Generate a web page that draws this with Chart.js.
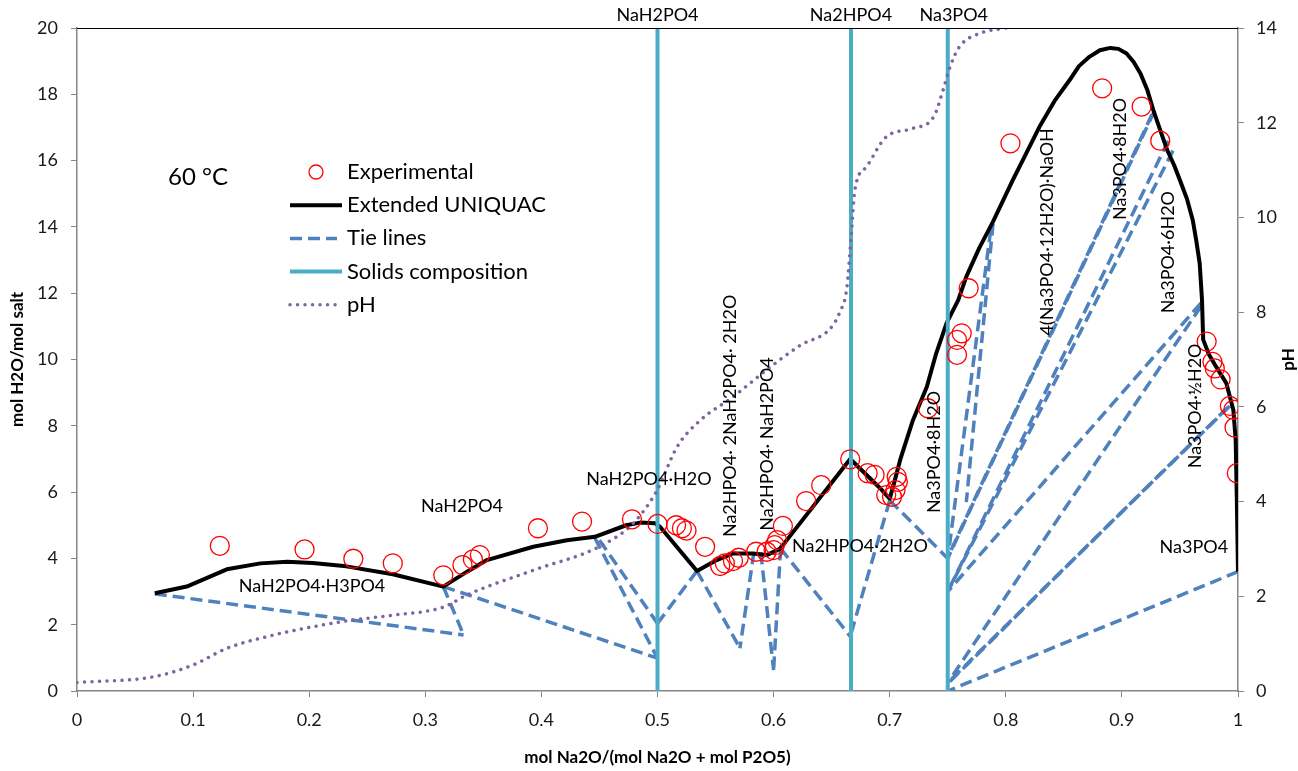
<!DOCTYPE html>
<html>
<head>
<meta charset="utf-8">
<title>Na2O-P2O5-H2O at 60 °C</title>
<script src="https://cdn.jsdelivr.net/npm/chart.js@4.4.1/dist/chart.umd.min.js"></script>
<style>
    body { margin: 0; background: #ffffff; }
    #wrap { width: 1298px; height: 771px; }
</style>
</head>
<body>
<div id="wrap"><canvas id="myChart" width="1298" height="771"></canvas></div>
<script>
// experimental solubility points
const expX = [0.123, 0.196, 0.238, 0.272, 0.3155, 0.332, 0.341, 0.347, 0.397, 0.435,
    0.478, 0.500, 0.516, 0.521, 0.525, 0.541, 0.554, 0.558, 0.565, 0.570,
    0.585, 0.594, 0.600, 0.601, 0.603, 0.608, 0.628, 0.641, 0.666, 0.681,
    0.687, 0.697, 0.702, 0.705, 0.707, 0.706, 0.733, 0.758, 0.758, 0.762,
    0.768, 0.804, 0.883, 0.917, 0.933, 0.973, 0.978, 0.980, 0.985, 0.993,
    0.996, 0.997, 0.999];
const expY = [4.38, 4.27, 3.99, 3.85, 3.49, 3.80, 3.97, 4.10, 4.91, 5.11,
    5.18, 5.04, 5.00, 4.91, 4.84, 4.35, 3.77, 3.85, 3.92, 4.02,
    4.20, 4.20, 4.25, 4.40, 4.55, 4.98, 5.73, 6.21, 6.99, 6.57,
    6.52, 5.91, 5.86, 6.06, 6.31, 6.46, 8.53, 10.14, 10.59, 10.79,
    12.15, 16.52, 18.18, 17.63, 16.60, 10.54, 9.93, 9.73, 9.40, 8.60,
    8.48, 7.95, 6.57];

// Extended UNIQUAC solubility curve
const uniquacX = [0.067, 0.0945, 0.129, 0.158, 0.181, 0.203, 0.232, 0.272, 0.3155, 0.336,
    0.353, 0.393, 0.422, 0.446, 0.473, 0.485, 0.498, 0.502, 0.534, 0.551,
    0.565, 0.582, 0.594, 0.605, 0.608, 0.666, 0.692, 0.700, 0.704, 0.709,
    0.720, 0.732, 0.740, 0.749, 0.759, 0.766, 0.777, 0.789, 0.806, 0.818,
    0.829, 0.842, 0.855, 0.863, 0.872, 0.881, 0.890, 0.897, 0.904, 0.910,
    0.916, 0.922, 0.927, 0.933, 0.939, 0.945, 0.950, 0.956, 0.961, 0.964,
    0.967, 0.969, 0.970, 0.975, 0.980, 0.990, 0.996, 0.998, 0.999, 1.000];
const uniquacY = [2.95, 3.15, 3.67, 3.85, 3.90, 3.86, 3.76, 3.52, 3.15, 3.60,
    3.95, 4.35, 4.55, 4.65, 5.00, 5.08, 5.06, 4.96, 3.62, 3.95,
    4.15, 4.15, 4.10, 4.28, 4.40, 7.00, 6.11, 5.80, 6.30, 6.97,
    8.17, 9.18, 10.18, 11.10, 11.79, 12.50, 13.35, 14.16, 15.41, 16.25,
    17.02, 17.80, 18.43, 18.85, 19.13, 19.33, 19.40, 19.37, 19.23, 18.98,
    18.63, 18.12, 17.53, 16.92, 16.32, 15.86, 15.41, 14.85, 14.21, 13.60,
    12.90, 11.80, 10.60, 10.15, 9.85, 9.28, 8.48, 7.57, 5.76, 3.60];

// pH (right axis)
const phX = [0, 0.066, 0.100, 0.129, 0.169, 0.204, 0.238, 0.272, 0.3155, 0.336,
    0.393, 0.450, 0.479, 0.499, 0.517, 0.537, 0.565, 0.594, 0.623, 0.649,
    0.657, 0.663, 0.667, 0.670, 0.680, 0.697, 0.720, 0.738, 0.746, 0.752,
    0.760, 0.778, 0.800];
const phY = [0.18, 0.30, 0.55, 0.90, 1.18, 1.36, 1.50, 1.60, 1.77, 2.03,
    2.55, 3.05, 3.54, 4.21, 5.16, 5.72, 6.21, 6.78, 7.30, 7.66,
    8.00, 8.50, 9.66, 10.58, 11.07, 11.70, 11.88, 12.13, 12.69, 13.18,
    13.60, 13.89, 14.00];

// solids composition (vertical lines)
const solidsX = [0.5, 2 / 3, 0.75];
const solidsNames = ['NaH2PO4', 'Na2HPO4', 'Na3PO4'];

// tie lines: [x solution, y solution, x solid, y solid]
const tieLines = [
    [0.067, 2.93, 0.333, 1.69],
    [0.3155, 3.15, 0.333, 1.69],
    [0.3155, 3.15, 0.5, 0.99],
    [0.446, 4.62, 0.5, 0.99],
    [0.450, 4.55, 0.5, 2.04],
    [0.534, 3.62, 0.5, 2.04],
    [0.534, 3.62, 0.571, 1.29],
    [0.583, 4.18, 0.571, 1.29],
    [0.589, 4.18, 0.6, 0.63],
    [0.606, 4.30, 0.6, 0.63],
    [0.606, 4.30, 0.666, 1.65],
    [0.700, 5.75, 0.666, 1.65],
    [0.700, 5.75, 0.75, 4.00],
    [0.789, 14.10, 0.766, 5.70],
    [0.787, 13.90, 0.75, 4.00],
    [0.928, 17.50, 0.75, 4.00],
    [0.926, 17.40, 0.75, 4.03],
    [0.940, 16.60, 0.75, 3.00],
    [0.944, 16.30, 0.75, 3.00],
    [0.968, 11.70, 0.75, 3.00],
    [0.968, 11.60, 0.75, 0.25],
    [0.993, 8.60, 0.75, 0.25],
    [0.991, 8.55, 0.75, 0.22],
    [1.000, 3.60, 0.75, 0.00]
];

// phase field labels (data coordinates), rot = rotated text
const phaseLabels = [
    { text: 'NaH2PO4·H3PO4', x: 0.2024, y: 3.17 },
    { text: 'NaH2PO4', x: 0.3316, y: 5.58 },
    { text: 'NaH2PO4·H2O', x: 0.4927, y: 6.40 },
    { text: 'Na2HPO4·2H2O', x: 0.6744, y: 4.37 },
    { text: 'Na3PO4', x: 0.962, y: 4.34 },
    { text: 'Na2HPO4· 2NaH2PO4· 2H2O', x: 0.5624, y: 8.30, rot: true },
    { text: 'Na2HPO4· NaH2PO4', x: 0.5943, y: 7.45, rot: true },
    { text: 'Na3PO4·8H2O', x: 0.7382, y: 7.21, rot: true },
    { text: '4(Na3PO4·12H2O)·NaOH', x: 0.8355, y: 13.85, rot: true },
    { text: 'Na3PO4·8H2O', x: 0.8984, y: 16.05, rot: true },
    { text: 'Na3PO4·6H2O', x: 0.9397, y: 13.24, rot: true },
    { text: 'Na3PO4·½H2O', x: 0.963, y: 8.60, rot: true }
];

const FONT = 'Lato, "Open Sans", sans-serif';
const AXIS_GREY = '#868686';

function toPoints(xs, ys) {
    return xs.map((x, i) => ({ x: x, y: ys[i] }));
}

const datasets = [];

datasets.push({
    label: 'Experimental',
    data: toPoints(expX, expY),
    showLine: false,
    pointRadius: 9.5,
    pointBorderWidth: 1.3,
    pointBorderColor: '#FF0000',
    pointBackgroundColor: 'rgba(0,0,0,0)',
    order: 0
});

datasets.push({
    label: 'Extended UNIQUAC',
    data: toPoints(uniquacX, uniquacY),
    showLine: true,
    pointRadius: 0,
    borderColor: '#000000',
    borderWidth: 4,
    borderJoinStyle: 'round',
    tension: 0,
    order: 3
});

tieLines.forEach(function(t) {
    datasets.push({
        label: 'Tie lines',
        data: [{ x: t[0], y: t[1] }, { x: t[2], y: t[3] }],
        showLine: true,
        pointRadius: 0,
        borderColor: '#4F81BD',
        borderWidth: 3.5,
        borderDash: [12, 6],
        order: 4
    });
});

solidsX.forEach(function(x) {
    datasets.push({
        label: 'Solids composition',
        data: [{ x: x, y: 0 }, { x: x, y: 20 }],
        showLine: true,
        pointRadius: 0,
        borderColor: '#4BACC6',
        borderWidth: 4,
        order: 2
    });
});

datasets.push({
    label: 'pH',
    data: toPoints(phX, phY),
    yAxisID: 'y2',
    showLine: true,
    pointRadius: 0,
    borderColor: '#8064A2',
    borderWidth: 3.5,
    borderCapStyle: 'round',
    borderDash: [0.01, 7.5],
    cubicInterpolationMode: 'monotone',
    order: 1
});

// labels, legend and plot frame drawn on top of the chart
const textPlugin = {
    id: 'textPlugin',
    afterDraw(chart) {
        const ctx = chart.ctx;
        const a = chart.chartArea;
        const sx = chart.scales.x, sy = chart.scales.y;
        ctx.save();

        // top frame line
        ctx.strokeStyle = '#000000';
        ctx.lineWidth = 1.2;
        ctx.beginPath();
        ctx.moveTo(a.left, a.top + 0.5);
        ctx.lineTo(a.right, a.top + 0.5);
        ctx.stroke();

        ctx.fillStyle = '#000000';
        ctx.textAlign = 'center';
        ctx.textBaseline = 'middle';

        // solid names above the plot
        ctx.font = '18px ' + FONT;
        solidsX.forEach(function(x, i) {
            ctx.fillText(solidsNames[i], sx.getPixelForValue(x) + (i === 2 ? 6 : 0), a.top - 13);
        });

        // phase fields
        phaseLabels.forEach(function(l) {
            const px = sx.getPixelForValue(l.x), py = sy.getPixelForValue(l.y);
            if (l.rot) {
                ctx.save();
                ctx.translate(px, py);
                ctx.rotate(-Math.PI / 2);
                ctx.fillText(l.text, 0, 0);
                ctx.restore();
            } else {
                ctx.fillText(l.text, px, py);
            }
        });

        // temperature
        ctx.font = '24px ' + FONT;
        ctx.fillText('60 °C', a.left + 121, a.top + 149);

        // legend
        const lx = a.left + 213, ly = a.top + 144, step = 33.2;
        ctx.font = '22px ' + FONT;
        ctx.textAlign = 'left';
        const items = ['Experimental', 'Extended UNIQUAC', 'Tie lines', 'Solids composition', 'pH'];
        items.forEach(function(name, i) {
            const y = ly + i * step;
            ctx.fillStyle = '#000000';
            ctx.fillText(name, lx + 57, y);
            ctx.setLineDash([]);
            ctx.lineCap = 'butt';
            if (i === 0) {
                ctx.strokeStyle = '#FF0000';
                ctx.lineWidth = 1.3;
                ctx.beginPath();
                ctx.arc(lx + 26, y, 7, 0, Math.PI * 2);
                ctx.stroke();
            } else {
                ctx.beginPath();
                ctx.moveTo(lx, y);
                ctx.lineTo(lx + (i === 2 || i === 4 ? 47 : 52), y);
                if (i === 1) { ctx.strokeStyle = '#000000'; ctx.lineWidth = 4; }
                if (i === 2) { ctx.strokeStyle = '#4F81BD'; ctx.lineWidth = 3.5; ctx.setLineDash([12, 6]); }
                if (i === 3) { ctx.strokeStyle = '#4BACC6'; ctx.lineWidth = 4; }
                if (i === 4) { ctx.strokeStyle = '#8064A2'; ctx.lineWidth = 3.5; ctx.lineCap = 'round'; ctx.setLineDash([0.01, 7.5]); }
                ctx.stroke();
            }
        });

        // secondary axis title
        ctx.setLineDash([]);
        ctx.fillStyle = '#000000';
        ctx.font = 'bold 17px ' + FONT;
        ctx.textAlign = 'center';
        ctx.translate(1289, (a.top + a.bottom) / 2);
        ctx.rotate(-Math.PI / 2);
        ctx.fillText('pH', 0, 0);
        ctx.restore();
    }
};

Chart.defaults.font.family = FONT;
Chart.defaults.font.size = 18;
Chart.defaults.color = '#1a1a1a';

const ctx = document.getElementById('myChart').getContext('2d');

new Chart(ctx, {
    type: 'scatter',
    data: { datasets: datasets },
    options: {
        responsive: false,
        animation: false,
        devicePixelRatio: 1,
        layout: { padding: { top: 28, left: 0, right: 0, bottom: 0 } },
        plugins: {
            legend: { display: false },
            tooltip: { enabled: false }
        },
        scales: {
            x: {
                type: 'linear',
                min: 0,
                max: 1,
                afterFit: function(scale) { scale.height = 80; },
                grid: { drawOnChartArea: false, drawTicks: true, tickLength: 6, color: AXIS_GREY },
                border: { display: true, color: AXIS_GREY, width: 1.5 },
                ticks: {
                    stepSize: 0.1,
                    padding: 12,
                    callback: function(v) { return String(Math.round(v * 10) / 10); }
                },
                title: {
                    display: true,
                    text: 'mol Na2O/(mol Na2O + mol P2O5)',
                    font: { size: 17, weight: 'bold' },
                    color: '#000000',
                    padding: { top: 0, bottom: 3 }
                }
            },
            y: {
                position: 'left',
                min: 0,
                max: 20,
                afterFit: function(scale) { scale.width = 77; },
                grid: { drawOnChartArea: false, drawTicks: true, tickLength: 6, color: AXIS_GREY },
                border: { display: true, color: AXIS_GREY, width: 1.5 },
                ticks: { stepSize: 2, padding: 13 },
                title: {
                    display: true,
                    text: 'mol H2O/mol salt',
                    font: { size: 17, weight: 'bold' },
                    color: '#000000',
                    padding: { top: 7, bottom: 0 }
                }
            },
            y2: {
                position: 'right',
                min: 0,
                max: 14,
                afterFit: function(scale) { scale.width = 60; },
                grid: { drawOnChartArea: false, drawTicks: true, tickLength: 6, color: AXIS_GREY },
                border: { display: true, color: AXIS_GREY, width: 1.5 },
                ticks: { stepSize: 2, padding: 12 }
            }
        }
    },
    plugins: [textPlugin]
});
</script>
</body>
</html>
